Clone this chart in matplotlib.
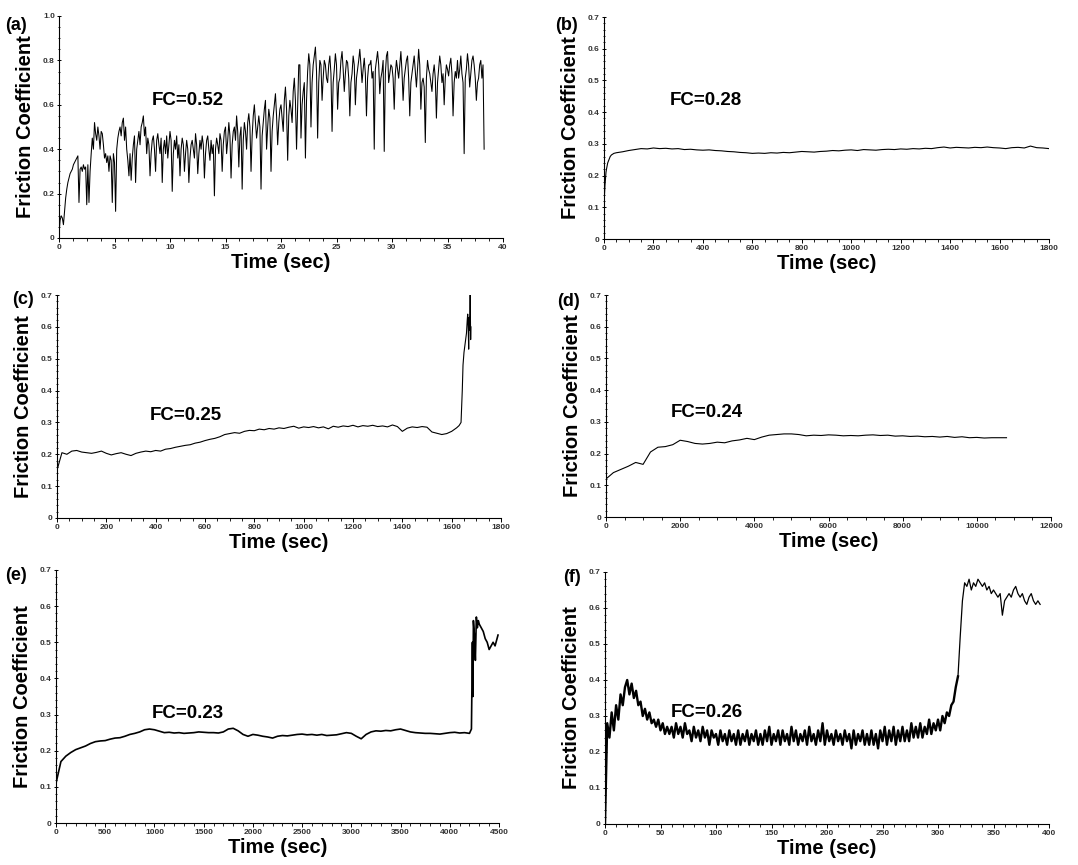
import numpy as np
import matplotlib
matplotlib.use("Agg")
import matplotlib.pyplot as plt
from matplotlib.ticker import MultipleLocator, FuncFormatter

plt.rcParams['font.family'] = ['Liberation Sans', 'DejaVu Sans']

# (a) sampled every 0.1 s
a_dt = 0.1
a_fc = [
    0.02, 0.08, 0.10, 0.09, 0.06, 0.12, 0.18, 0.22, 0.25, 0.27, 0.29, 0.30, 0.31, 0.33, 0.34, 0.35, 0.36, 0.37, 0.16, 0.31,
    0.32, 0.30, 0.33, 0.31, 0.32, 0.15, 0.33, 0.16, 0.30, 0.38, 0.45, 0.40, 0.52, 0.47, 0.44, 0.50, 0.46, 0.40, 0.48, 0.47,
    0.42, 0.36, 0.38, 0.34, 0.37, 0.30, 0.37, 0.35, 0.16, 0.38, 0.34, 0.12, 0.40, 0.45, 0.48, 0.50, 0.46, 0.52, 0.54, 0.44,
    0.50, 0.40, 0.35, 0.28, 0.38, 0.26, 0.36, 0.42, 0.46, 0.25, 0.40, 0.44, 0.48, 0.42, 0.50, 0.52, 0.55, 0.46, 0.50, 0.38,
    0.45, 0.42, 0.28, 0.38, 0.44, 0.46, 0.40, 0.30, 0.44, 0.47, 0.42, 0.38, 0.45, 0.25, 0.40, 0.44, 0.38, 0.46, 0.36, 0.42,
    0.48, 0.44, 0.21, 0.38, 0.44, 0.40, 0.46, 0.36, 0.42, 0.28, 0.40, 0.45, 0.42, 0.30, 0.38, 0.44, 0.40, 0.25, 0.36, 0.42,
    0.44, 0.40, 0.36, 0.47, 0.42, 0.29, 0.38, 0.44, 0.40, 0.46, 0.42, 0.27, 0.38, 0.44, 0.46, 0.40, 0.35, 0.44, 0.38, 0.42,
    0.19, 0.40, 0.45, 0.42, 0.38, 0.47, 0.44, 0.30, 0.42, 0.48, 0.50, 0.38, 0.44, 0.52, 0.46, 0.27, 0.42, 0.48, 0.50, 0.44,
    0.55, 0.48, 0.32, 0.46, 0.50, 0.22, 0.44, 0.52, 0.48, 0.40, 0.52, 0.56, 0.50, 0.30, 0.46, 0.55, 0.60, 0.52, 0.45, 0.50,
    0.55, 0.50, 0.22, 0.46, 0.52, 0.58, 0.62, 0.40, 0.50, 0.58, 0.54, 0.30, 0.48, 0.55, 0.60, 0.65, 0.55, 0.42, 0.52, 0.58,
    0.60, 0.54, 0.48, 0.62, 0.68, 0.58, 0.35, 0.55, 0.62, 0.58, 0.52, 0.66, 0.72, 0.62, 0.40, 0.60, 0.78, 0.78, 0.45, 0.60,
    0.66, 0.70, 0.36, 0.62, 0.75, 0.83, 0.78, 0.50, 0.70, 0.78, 0.82, 0.86, 0.75, 0.45, 0.70, 0.80, 0.78, 0.62, 0.72, 0.80,
    0.78, 0.72, 0.70, 0.78, 0.82, 0.74, 0.48, 0.70, 0.76, 0.83, 0.78, 0.58, 0.70, 0.72, 0.80, 0.84, 0.76, 0.66, 0.74, 0.80,
    0.79, 0.72, 0.55, 0.70, 0.74, 0.82, 0.78, 0.60, 0.72, 0.76, 0.80, 0.85, 0.78, 0.70, 0.76, 0.81, 0.74, 0.55, 0.72, 0.78,
    0.78, 0.80, 0.72, 0.75, 0.40, 0.76, 0.80, 0.84, 0.78, 0.65, 0.72, 0.75, 0.80, 0.39, 0.74, 0.82, 0.84, 0.70, 0.74, 0.78,
    0.77, 0.72, 0.58, 0.74, 0.80, 0.76, 0.72, 0.78, 0.84, 0.75, 0.62, 0.72, 0.76, 0.80, 0.82, 0.72, 0.55, 0.70, 0.74, 0.78,
    0.82, 0.75, 0.68, 0.76, 0.85, 0.78, 0.58, 0.70, 0.72, 0.68, 0.43, 0.72, 0.80, 0.76, 0.74, 0.70, 0.66, 0.74, 0.78, 0.72,
    0.54, 0.70, 0.76, 0.82, 0.78, 0.70, 0.74, 0.60, 0.72, 0.78, 0.76, 0.73, 0.78, 0.81, 0.74, 0.55, 0.70, 0.75, 0.72, 0.80,
    0.72, 0.76, 0.82, 0.74, 0.70, 0.38, 0.72, 0.76, 0.83, 0.78, 0.68, 0.74, 0.80, 0.82, 0.78, 0.72, 0.62, 0.70, 0.72, 0.78,
    0.80, 0.72, 0.78, 0.40,
]

# (b) early run-in then every 25 s from 50 s
b_early_t = [0, 2, 4, 6, 8, 10, 15, 20, 25, 30, 40]
b_early_fc = [0.10, 0.14, 0.17, 0.19, 0.21, 0.22, 0.24, 0.25, 0.26, 0.265, 0.27]
b_fc = [
    0.272, 0.275, 0.279, 0.282, 0.285, 0.284, 0.287, 0.285, 0.286, 0.284,
    0.285, 0.282, 0.283, 0.281, 0.280, 0.281, 0.279, 0.278, 0.276, 0.275,
    0.273, 0.272, 0.270, 0.271, 0.270, 0.272, 0.271, 0.273, 0.272, 0.274,
    0.276, 0.275, 0.274, 0.276, 0.277, 0.279, 0.278, 0.280, 0.281, 0.279,
    0.282, 0.281, 0.280, 0.282, 0.283, 0.282, 0.284, 0.283, 0.285, 0.284,
    0.286, 0.285, 0.288, 0.290, 0.287, 0.289, 0.288, 0.287, 0.289, 0.288,
    0.290, 0.288, 0.287, 0.285, 0.288, 0.289, 0.287, 0.293, 0.288, 0.287,
    0.285,
]

# (c) every 20 s, then the failure tail
c_fc = [
    0.150, 0.205, 0.200, 0.210, 0.212, 0.207, 0.205, 0.203, 0.206, 0.210,
    0.203, 0.198, 0.202, 0.205, 0.200, 0.196, 0.203, 0.207, 0.210, 0.208,
    0.212, 0.210, 0.216, 0.218, 0.222, 0.225, 0.228, 0.230, 0.235, 0.238,
    0.243, 0.247, 0.250, 0.255, 0.262, 0.265, 0.268, 0.266, 0.272, 0.275,
    0.274, 0.279, 0.277, 0.281, 0.279, 0.283, 0.281, 0.285, 0.288, 0.282,
    0.286, 0.284, 0.287, 0.283, 0.286, 0.280, 0.288, 0.285, 0.289, 0.287,
    0.291, 0.286, 0.290, 0.288, 0.291, 0.287, 0.289, 0.286, 0.292, 0.287,
    0.272, 0.282, 0.286, 0.284, 0.287, 0.285, 0.270, 0.266, 0.262, 0.265,
    0.272, 0.283,
]
c_tail_t = [1630, 1638, 1643, 1646, 1650, 1655, 1660, 1663, 1665, 1667,
            1669, 1671, 1673, 1675, 1677, 1678]
c_tail_fc = [0.29, 0.30, 0.40, 0.48, 0.52, 0.55, 0.58, 0.62, 0.64, 0.60,
             0.53, 0.63, 0.59, 0.70, 0.56, 0.60]

# (d) every 200 s
d_fc = [
    0.120, 0.140, 0.150, 0.160, 0.172, 0.166, 0.205, 0.220, 0.222, 0.228,
    0.242, 0.238, 0.232, 0.230, 0.232, 0.236, 0.234, 0.240, 0.243, 0.248,
    0.244, 0.252, 0.258, 0.260, 0.262, 0.262, 0.260, 0.256, 0.258, 0.257,
    0.259, 0.258, 0.256, 0.257, 0.256, 0.258, 0.259, 0.257, 0.258, 0.255,
    0.256, 0.254, 0.255, 0.253, 0.254, 0.252, 0.254, 0.251, 0.253, 0.250,
    0.251, 0.249, 0.250, 0.250, 0.250,
]

# (e) every 50 s, then the jump near 4230 s
e_fc = [
    0.110, 0.170, 0.185, 0.195, 0.203, 0.208, 0.213, 0.220, 0.225, 0.227,
    0.228, 0.232, 0.235, 0.236, 0.240, 0.245, 0.248, 0.252, 0.258, 0.260,
    0.258, 0.254, 0.250, 0.251, 0.249, 0.250, 0.248, 0.249, 0.250, 0.252,
    0.251, 0.250, 0.250, 0.249, 0.252, 0.260, 0.262, 0.255, 0.245, 0.240,
    0.245, 0.243, 0.240, 0.238, 0.235, 0.240, 0.242, 0.241, 0.243, 0.245,
    0.246, 0.244, 0.245, 0.243, 0.245, 0.242, 0.243, 0.244, 0.247, 0.250,
    0.248, 0.240, 0.233, 0.245, 0.252, 0.255, 0.254, 0.256, 0.255, 0.258,
    0.260, 0.256, 0.252, 0.250, 0.249, 0.248, 0.248, 0.247, 0.246, 0.248,
    0.250, 0.251, 0.249, 0.250, 0.248,
]
e_tail_t = [4220, 4230, 4235, 4240, 4250, 4260, 4270, 4280, 4290, 4300,
            4320, 4340, 4360, 4380, 4400, 4420, 4440, 4460, 4480, 4490]
e_tail_fc = [0.26, 0.50, 0.35, 0.56, 0.52, 0.45, 0.57, 0.54, 0.56, 0.55,
             0.54, 0.53, 0.51, 0.50, 0.48, 0.49, 0.50, 0.49, 0.51, 0.52]

# (f) every 2 s
f_fc = [
    0.00, 0.28, 0.24, 0.31, 0.26, 0.33, 0.29, 0.36, 0.33, 0.38,
    0.40, 0.36, 0.39, 0.35, 0.37, 0.33, 0.34, 0.30, 0.32, 0.29,
    0.31, 0.28, 0.29, 0.27, 0.29, 0.26, 0.28, 0.25, 0.27, 0.25,
    0.27, 0.24, 0.28, 0.25, 0.27, 0.24, 0.28, 0.25, 0.26, 0.23,
    0.27, 0.24, 0.26, 0.23, 0.27, 0.24, 0.26, 0.22, 0.26, 0.24,
    0.25, 0.22, 0.26, 0.23, 0.25, 0.22, 0.26, 0.23, 0.25, 0.22,
    0.26, 0.22, 0.25, 0.23, 0.26, 0.22, 0.25, 0.23, 0.26, 0.22,
    0.25, 0.22, 0.26, 0.23, 0.27, 0.22, 0.25, 0.23, 0.26, 0.22,
    0.26, 0.23, 0.25, 0.22, 0.27, 0.23, 0.26, 0.22, 0.25, 0.23,
    0.26, 0.22, 0.27, 0.23, 0.25, 0.22, 0.26, 0.23, 0.28, 0.22,
    0.26, 0.23, 0.25, 0.22, 0.26, 0.23, 0.25, 0.22, 0.26, 0.23,
    0.25, 0.21, 0.26, 0.22, 0.25, 0.23, 0.26, 0.22, 0.25, 0.22,
    0.26, 0.22, 0.25, 0.21, 0.26, 0.23, 0.27, 0.22, 0.26, 0.23,
    0.27, 0.22, 0.26, 0.23, 0.27, 0.23, 0.26, 0.23, 0.28, 0.24,
    0.27, 0.24, 0.28, 0.24, 0.27, 0.25, 0.29, 0.25, 0.28, 0.26,
    0.29, 0.26, 0.30, 0.28, 0.31, 0.30, 0.33, 0.34, 0.38, 0.41,
    0.52, 0.62, 0.67, 0.66, 0.68, 0.65, 0.67, 0.66, 0.68, 0.67,
    0.66, 0.67, 0.65, 0.66, 0.64, 0.65, 0.64, 0.63, 0.64, 0.58,
    0.62, 0.63, 0.64, 0.63, 0.65, 0.66, 0.64, 0.63, 0.64, 0.62,
    0.61, 0.63, 0.64, 0.62, 0.61, 0.62, 0.61,
]
f_noisy_end = 160  # samples up to ~318 s drawn as the thick noisy band

fc_labels = ["FC=0.52", "FC=0.28", "FC=0.25", "FC=0.24", "FC=0.23", "FC=0.26"]
panel_tags = ["(a)", "(b)", "(c)", "(d)", "(e)", "(f)"]

W, H = 1078, 865
fig = plt.figure(figsize=(W / 100, H / 100), dpi=100)


def px_axes(x0, x1, ytop, ybot):
    return fig.add_axes([x0 / W, (H - ybot) / H, (x1 - x0) / W, (ybot - ytop) / H])


def style(ax, xmax, xmaj, xmin, ymax, ymaj, ymin):
    for s in ("top", "right"):
        ax.spines[s].set_visible(False)
    ax.set_xlim(0, xmax)
    ax.set_ylim(0, ymax)
    ax.xaxis.set_major_locator(MultipleLocator(xmaj))
    ax.xaxis.set_minor_locator(MultipleLocator(xmin))
    ax.yaxis.set_major_locator(MultipleLocator(ymaj))
    ax.yaxis.set_minor_locator(MultipleLocator(ymin))
    ax.xaxis.set_major_formatter(FuncFormatter(lambda v, p: "0" if v == 0 else f"{v:g}"))
    ax.yaxis.set_major_formatter(FuncFormatter(lambda v, p: "0" if abs(v) < 1e-9 else f"{v:.1f}"))
    ax.tick_params(axis="both", which="major", labelsize=6, length=3, width=0.7, pad=1.5,
                   labelcolor="#333333")
    ax.tick_params(axis="both", which="minor", length=1.8, width=0.6)
    ax.tick_params(axis="y", which="both", direction="inout")
    ax.tick_params(axis="x", which="both", direction="out")
    for lbl in ax.get_xticklabels() + ax.get_yticklabels():
        lbl.set_fontweight("bold")
    for s in ("left", "bottom"):
        ax.spines[s].set_linewidth(0.8)
    ax.set_xlabel("Time (sec)", fontsize=14.5, fontweight="bold", labelpad=1)
    ax.set_ylabel("Friction Coefficient", fontsize=14.5, fontweight="bold", labelpad=6)


lw = 0.8

# (a)
ax = px_axes(59, 503, 16, 238)
style(ax, 40, 5, 1.25, 1.0, 0.2, 0.05)
ax.plot(a_dt * np.arange(len(a_fc)), a_fc, color="black", lw=0.75)
ax.text(8.4, 0.62, fc_labels[0], fontsize=13.5, fontweight="bold", va="center")

# (b)
ax = px_axes(604, 1049, 17, 239)
style(ax, 1800, 200, 50, 0.7, 0.1, 0.02)
b_t = np.concatenate([b_early_t, 50 + 25 * np.arange(len(b_fc))])
ax.plot(b_t, np.concatenate([b_early_fc, b_fc]), color="black", lw=lw)
ax.text(267, 0.438, fc_labels[1], fontsize=13.5, fontweight="bold", va="center")

# (c)
ax = px_axes(57, 501, 295, 518)
style(ax, 1800, 200, 50, 0.7, 0.1, 0.02)
c_t = np.concatenate([20 * np.arange(len(c_fc)), c_tail_t])
ax.plot(c_t, np.concatenate([c_fc, c_tail_fc]), color="black", lw=lw)
ax.text(377, 0.323, fc_labels[2], fontsize=13.5, fontweight="bold", va="center")

# (d)
ax = px_axes(606, 1051, 295, 517)
style(ax, 12000, 2000, 500, 0.7, 0.1, 0.02)
ax.plot(200 * np.arange(len(d_fc)), d_fc, color="black", lw=lw)
ax.text(1753, 0.328, fc_labels[3], fontsize=13.5, fontweight="bold", va="center")

# (e)
ax = px_axes(56, 499, 570, 823)
style(ax, 4500, 500, 100, 0.7, 0.1, 0.02)
e_t = np.concatenate([50 * np.arange(len(e_fc)), e_tail_t])
ax.plot(e_t, np.concatenate([e_fc, e_tail_fc]), color="black", lw=1.2)
ax.text(975, 0.304, fc_labels[4], fontsize=13.5, fontweight="bold", va="center")

# (f)
ax = px_axes(605, 1049, 572, 824)
style(ax, 400, 50, 10, 0.7, 0.1, 0.02)
f_t = 2 * np.arange(len(f_fc))
ax.plot(f_t[:f_noisy_end], f_fc[:f_noisy_end], color="black", lw=1.7)
ax.plot(f_t[f_noisy_end - 1:], f_fc[f_noisy_end - 1:], color="black", lw=0.9)
ax.text(59.5, 0.311, fc_labels[5], fontsize=13.5, fontweight="bold", va="center")

# panel tags
tag_pos = [(5, 25), (555, 25), (12, 300), (557, 302), (5, 575), (563, 577)]
for tag, (tx, ty) in zip(panel_tags, tag_pos):
    fig.text(tx / W, 1 - ty / H, tag, fontsize=13, fontweight="bold", va="center")

fig.savefig("out.png", dpi=100)
